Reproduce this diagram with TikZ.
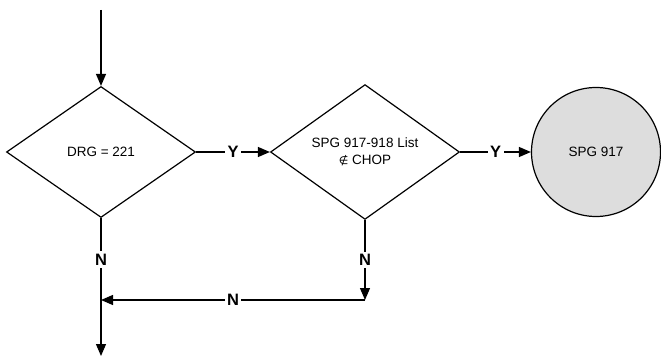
\documentclass[tikz,border=0pt]{standalone}
\usepackage{fontspec}
\setmainfont{Liberation Sans}
\newfontfamily\symfont{DejaVu Sans}
\usepackage{tikz}
\usetikzlibrary{arrows.meta,shapes.geometric}
\definecolor{fillgray}{HTML}{DDDDDD}

\begin{document}
\begin{tikzpicture}[
  x=1pt, y=-1pt,
  font=\fontsize{13.5}{17}\selectfont,
  line width=1.2pt,
  test/.style={draw, diamond, align=center, inner sep=0pt,
               minimum width=189pt, minimum height=131pt},
  term/.style={draw, circle, fill=fillgray, minimum size=129pt, inner sep=0pt},
  lbl/.style={fill=white, font=\fontsize{16.5}{18}\selectfont\bfseries, inner sep=2.5pt},
  ar/.style={-{Triangle[length=12pt,width=10pt]}}
]
\useasboundingbox (0,0) rectangle (661,358);
\coordinate (in) at (101,10);
\node[test] (drg) at (101,152) {DRG = 221};
\node[test] (spg) at (365,152) {SPG 917-918 List\\{\symfont\fontsize{11}{17}\selectfont ∉} CHOP};
\node[term] (out) at (596,152) {SPG 917};
\coordinate (join) at (101,300);
\coordinate (turn) at (365,300);
\coordinate (exit) at (101,356);
\draw[ar] (in) -- (drg);
\draw[ar] (drg) -- node[lbl] {Y} (spg);
\draw[ar] (spg) -- node[lbl] {Y} (out);
\draw[ar] (drg.south) -- node[lbl, pos=0.3] {N} (exit);
\draw[ar] (spg.south) -- node[lbl] {N} (turn);
\draw[ar] (turn) -- node[lbl] {N} (join);
\end{tikzpicture}
\end{document}
